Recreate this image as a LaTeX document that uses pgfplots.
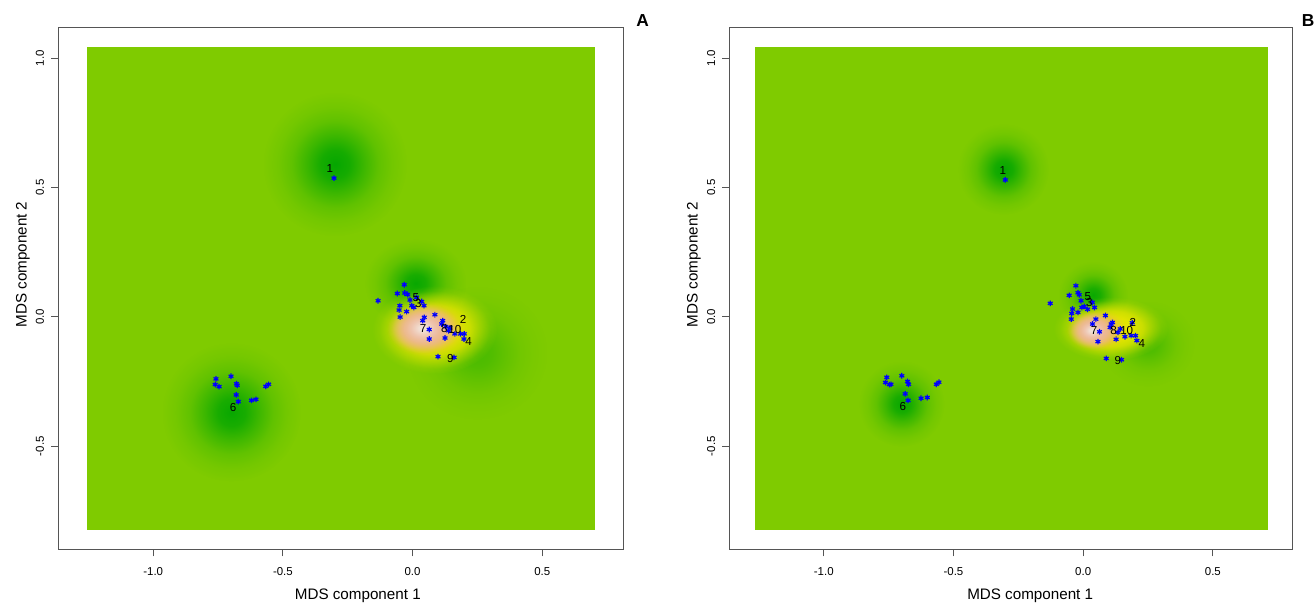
\documentclass[border=0pt]{standalone}
\usepackage{fontspec}
\setmainfont{Liberation Sans}
\usepackage{pgfplots}
\pgfplotsset{compat=1.18}
\usetikzlibrary{fadings,shapes.geometric}

\definecolor{bg}{RGB}{127,203,0}
\definecolor{dkg}{RGB}{0,166,0}
\definecolor{ylw}{RGB}{230,230,0}
\definecolor{tanc}{RGB}{234,182,78}
\definecolor{pnk}{RGB}{238,185,159}
\definecolor{wht}{RGB}{242,228,218}
\definecolor{frame}{RGB}{85,85,85}

% the path's bounding box corresponds to the central +-25bp of a fading
\pgfdeclareradialshading{softshade}{\pgfpointorigin}{color(0bp)=(transparent!0); color(5bp)=(transparent!14); color(10bp)=(transparent!46); color(15bp)=(transparent!75); color(20bp)=(transparent!91); color(25bp)=(transparent!100); color(50bp)=(transparent!100)}
\pgfdeclarefading{soft}{\pgfuseshading{softshade}}
\pgfdeclareradialshading{flatshade}{\pgfpointorigin}{color(0bp)=(transparent!0); color(9bp)=(transparent!3); color(14bp)=(transparent!22); color(18bp)=(transparent!55); color(22bp)=(transparent!88); color(25bp)=(transparent!100); color(50bp)=(transparent!100)}
\pgfdeclarefading{flat}{\pgfuseshading{flatshade}}

\pgfplotsset{
  blob/.style n args={4}{only marks, mark=none, point meta=y, nodes near coords={},
    every node near coord/.style={anchor=center, ellipse, inner sep=0pt, draw=none,
      minimum width=#1, minimum height=#2, fill=#3, path fading=#4}},
  stars/.style={only marks, mark=asterisk, mark size=2.1pt, blue, mark options={line width=0.9pt, blue}},
  labs/.style={only marks, mark=none, nodes near coords, point meta=explicit symbolic,
    every node near coord/.style={anchor=center, inner sep=0pt, text=black, font=\fontsize{8.7}{9}\selectfont}},
  rstyle/.style={
    scale only axis, height=391.5pt,
    ymin=-0.899, ymax=1.119,
    axis background/.style={fill=white},
    tick align=outside, xtick pos=left, ytick pos=left,
    major tick length=5.2pt,
    axis line style={frame, line width=0.75pt},
    every tick/.style={frame, line width=0.75pt},
    xtick={-1,-0.5,0,0.5}, xticklabels={-1.0,-0.5,0.0,0.5},
    ytick={-0.5,0,0.5,1}, yticklabels={-0.5,0.0,0.5,1.0},
    ticklabel style={font=\fontsize{8.6}{10}\selectfont, text=black},
    xticklabel style={anchor=center, yshift=-11.8pt},
    yticklabel style={anchor=center, xshift=-8.5pt, rotate=90},
    every axis x label/.style={at={(rel axis cs:0.53,0)}, anchor=center, yshift=-35pt, font=\fontsize{11.4}{13}\selectfont},
    every axis y label/.style={at={(rel axis cs:0,0.5456)}, anchor=center, xshift=-26.5pt, rotate=90, font=\fontsize{11.4}{13}\selectfont},
    xlabel={MDS component 1}, ylabel={MDS component 2},
    clip=false,
  },
}

\begin{document}
\begin{tikzpicture}
\useasboundingbox (0,0) rectangle (987pt,453pt);

% ---------------- Panel A ----------------
\begin{axis}[rstyle, at={(43.7pt,41pt)}, anchor=south west, width=423.9pt,
  xmin=-1.366, xmax=0.813,
  title={A}, title style={at={(rel axis cs:1,1)}, anchor=center, xshift=14.4pt, yshift=-1pt, font=\fontsize{13}{14}\bfseries}]
\addplot[fill=bg, draw=none] coordinates {(-1.256,-0.825) (0.703,-0.825) (0.703,1.042) (-1.256,1.042)} -- cycle;
% green blobs
\addplot[blob={108pt}{108pt}{dkg!96!bg}{soft}] coordinates {(-0.299,0.590)};
\addplot[blob={104pt}{104pt}{dkg!94!bg}{soft}] coordinates {(-0.698,-0.369)};
\addplot[blob={105pt}{100pt}{dkg!42!bg}{soft}] coordinates {(0.250,-0.140)};
\addplot[blob={76pt}{66pt}{dkg!94!bg}{soft}] coordinates {(0.012,0.130)};
% hot blob
\addplot[blob={94pt}{66pt}{ylw}{flat}] coordinates {(0.085,-0.050)};
\addplot[blob={60pt}{42pt}{tanc}{flat}] coordinates {(0.052,-0.045)};
\addplot[blob={54pt}{38pt}{pnk}{flat}] coordinates {(0.042,-0.044)};
\addplot[blob={30pt}{22pt}{wht}{soft}] coordinates {(0.038,-0.044)};
% points
\addplot[stars] table[row sep=\\]{
x y\\
-0.032 0.124\\ -0.059 0.090\\ -0.030 0.092\\ -0.019 0.086\\ -0.133 0.062\\
0.015 0.075\\ -0.010 0.065\\ 0.035 0.059\\ 0.044 0.043\\ -0.049 0.043\\
-0.003 0.043\\ 0.005 0.036\\ -0.052 0.026\\ -0.023 0.020\\ -0.048 -0.001\\
0.086 0.008\\ 0.045 -0.002\\ 0.039 -0.015\\ 0.116 -0.015\\ 0.112 -0.028\\
0.128 -0.038\\ 0.064 -0.049\\ 0.144 -0.043\\ 0.139 -0.054\\ 0.163 -0.066\\
0.185 -0.066\\ 0.199 -0.066\\ 0.064 -0.086\\ 0.125 -0.082\\ 0.198 -0.086\\
0.098 -0.154\\ 0.160 -0.157\\ -0.303 0.536\\
-0.758 -0.240\\ -0.761 -0.262\\ -0.746 -0.270\\ -0.700 -0.230\\ -0.679 -0.259\\
-0.676 -0.265\\ -0.680 -0.302\\ -0.672 -0.328\\ -0.621 -0.323\\ -0.604 -0.319\\
-0.566 -0.269\\ -0.555 -0.261\\
};
\addplot[labs] table[row sep=\\, meta=lab]{
x y lab\\
-0.319 0.574 1\\ -0.692 -0.352 6\\ 0.013 0.075 5\\ 0.022 0.053 3\\ 0.041 -0.045 7\\
0.122 -0.045 8\\ 0.163 -0.051 10\\ 0.195 -0.012 2\\ 0.216 -0.096 4\\ 0.146 -0.163 9\\
};
\end{axis}

% ---------------- Panel B ----------------
\begin{axis}[rstyle, at={(547pt,41pt)}, anchor=south west, width=422.55pt,
  xmin=-1.364, xmax=0.808,
  every axis x label/.append style={at={(rel axis cs:0.534,0)}},
  title={B}, title style={at={(rel axis cs:1,1)}, anchor=center, xshift=11.5pt, yshift=-1pt, font=\fontsize{13}{14}\bfseries}]
\addplot[fill=bg, draw=none] coordinates {(-1.264,-0.825) (0.712,-0.825) (0.712,1.042) (-1.264,1.042)} -- cycle;
\addplot[blob={68pt}{68pt}{dkg!96!bg}{soft}] coordinates {(-0.307,0.570)};
\addplot[blob={64pt}{64pt}{dkg!94!bg}{soft}] coordinates {(-0.699,-0.337)};
\addplot[blob={70pt}{64pt}{dkg!42!bg}{soft}] coordinates {(0.250,-0.105)};
\addplot[blob={52pt}{50pt}{dkg!92!bg}{soft}] coordinates {(0.039,0.084)};
\addplot[blob={86pt}{48pt}{ylw}{flat}] coordinates {(0.106,-0.046)};
\addplot[blob={46pt}{32pt}{tanc}{flat}] coordinates {(0.052,-0.050)};
\addplot[blob={38pt}{28pt}{pnk}{flat}] coordinates {(0.037,-0.052)};
\addplot[blob={20pt}{15pt}{wht}{soft}] coordinates {(0.034,-0.052)};
\addplot[stars] table[row sep=\\]{
x y\\
-0.028 0.120\\ -0.054 0.083\\ -0.020 0.093\\ -0.015 0.085\\ -0.127 0.052\\
-0.008 0.062\\ -0.041 0.030\\ -0.044 0.013\\ -0.020 0.017\\ -0.046 -0.009\\
-0.005 0.036\\ 0.004 0.040\\ 0.017 0.029\\ 0.035 0.056\\ 0.044 0.036\\
0.049 -0.009\\ 0.086 0.005\\ 0.036 -0.028\\ 0.063 -0.058\\ 0.108 -0.028\\
0.113 -0.022\\ 0.104 -0.041\\ 0.143 -0.047\\ 0.134 -0.060\\ 0.161 -0.077\\
0.127 -0.087\\ 0.185 -0.073\\ 0.202 -0.073\\ 0.207 -0.092\\ 0.057 -0.096\\
0.089 -0.161\\ 0.148 -0.166\\ 0.189 -0.023\\ -0.300 0.529\\
-0.757 -0.234\\ -0.762 -0.254\\ -0.747 -0.262\\ -0.741 -0.261\\ -0.699 -0.228\\
-0.677 -0.250\\ -0.673 -0.261\\ -0.686 -0.298\\ -0.675 -0.323\\ -0.625 -0.315\\
-0.601 -0.312\\ -0.566 -0.261\\ -0.556 -0.253\\
};
\addplot[labs] table[row sep=\\, meta=lab]{
x y lab\\
-0.310 0.564 1\\ -0.695 -0.346 6\\ 0.018 0.078 5\\ 0.024 0.056 3\\ 0.042 -0.054 7\\
0.117 -0.054 8\\ 0.168 -0.054 10\\ 0.192 -0.022 2\\ 0.226 -0.105 4\\ 0.134 -0.169 9\\
};
\end{axis}
\end{tikzpicture}
\end{document}
